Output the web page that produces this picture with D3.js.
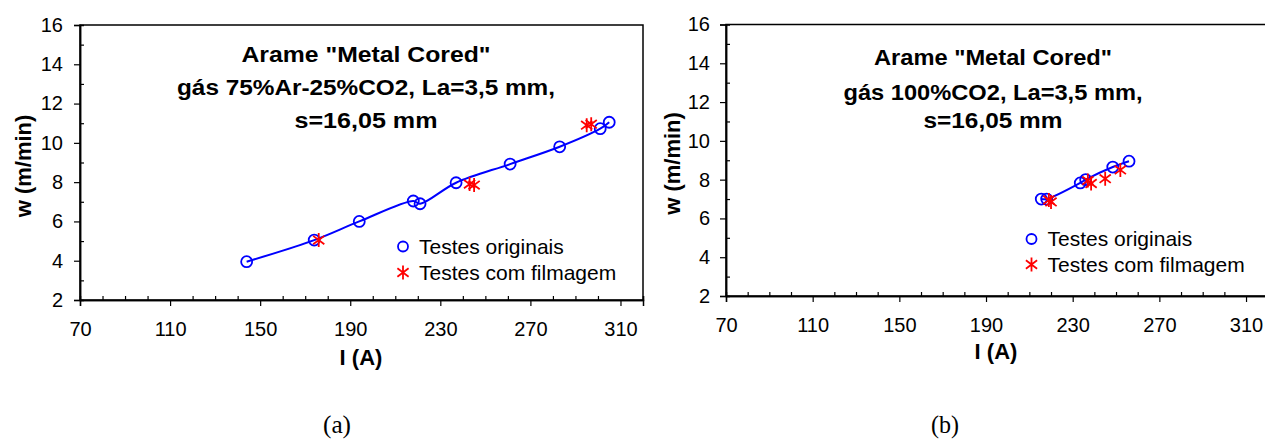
<!DOCTYPE html>
<html>
<head>
<meta charset="utf-8">
<script src="https://cdn.jsdelivr.net/npm/d3@7"></script>
<style>
  body { margin: 0; background: #fff; }
  svg text { font-family: "Liberation Sans", Arial, sans-serif; }
</style>
</head>
<body>
<svg width="1265" height="441"></svg>
<script>
// axis ticks
let xTicks = [70, 110, 150, 190, 230, 270, 310];
let yTicks = [2, 4, 6, 8, 10, 12, 14, 16];
let xMinor = [80, 90, 100, 120, 130, 140, 160, 170, 180, 200, 210, 220, 240, 250, 260, 280, 290, 300, 320];
let yMinor = [3, 5, 7, 9, 11, 13, 15];

// (a) 75%Ar-25%CO2
let aOrigI = [144, 174, 194, 218, 221, 237, 261, 283, 301, 305];
let aOrigW = [3.95, 5.05, 6.0, 7.04, 6.9, 7.97, 8.92, 9.8, 10.72, 11.05];
let aFilmI = [176, 243, 245, 295, 297];
let aFilmW = [5.05, 7.9, 7.85, 10.9, 10.95];

// (b) 100%CO2
let bOrigI = [215.5, 218, 233.5, 236, 248.5, 256];
let bOrigW = [7.0, 7.0, 7.83, 8.0, 8.65, 8.95];
let bFilmI = [219, 220, 237, 238.5, 245, 252];
let bFilmW = [6.95, 6.85, 7.95, 7.8, 8.05, 8.5];

let titleA = ['Arame "Metal Cored"', 'gás 75%Ar-25%CO2, La=3,5 mm,', 's=16,05 mm'];
let titleB = ['Arame "Metal Cored"', 'gás 100%CO2, La=3,5 mm,', 's=16,05 mm'];
let legendLabels = ['Testes originais', 'Testes com filmagem'];

let svg = d3.select('svg');

function zip(xs, ys) {
    return xs.map((x, i) => [x, ys[i]]);
}

// asterisk marker like the excel "*"
function starPath(r) {
    let d = r * 0.8;
    return `M0,${-r}L0,${r}M${-d},${-d * 0.75}L${d},${d * 0.75}M${-d},${d * 0.75}L${d},${-d * 0.75}`;
}

function drawChart(c) {
    let x = d3.scaleLinear().domain([70, 320]).range([c.left, c.right]);
    let y = d3.scaleLinear().domain([2, 16]).range([c.bottom, c.top]);
    let g = svg.append('g');

    // plot frame
    g.append('rect')
        .attr('x', c.left)
        .attr('y', c.top)
        .attr('width', c.right - c.left)
        .attr('height', c.bottom - c.top)
        .attr('fill', 'none')
        .attr('stroke', '#000')
        .attr('stroke-width', 1.5);

    // major ticks outside, minor ticks inside
    g.append('g')
        .attr('transform', `translate(0,${c.bottom})`)
        .call(d3.axisBottom(x).tickValues(xTicks).tickSize(6).tickPadding(16).tickFormat(d3.format('d')));
    g.append('g')
        .attr('transform', `translate(0,${c.bottom})`)
        .call(d3.axisBottom(x).tickValues(xMinor).tickSize(-4).tickFormat(''));
    g.append('g')
        .attr('transform', `translate(${c.left},0)`)
        .call(d3.axisLeft(y).tickValues(yTicks).tickSize(6).tickPadding(c.yPad).tickFormat(d3.format('d')));
    g.append('g')
        .attr('transform', `translate(${c.left},0)`)
        .call(d3.axisLeft(y).tickValues(yMinor).tickSize(-4).tickFormat(''));

    g.selectAll('.domain').attr('stroke-width', 1.5);
    g.selectAll('.tick line').attr('stroke-width', 1.2);
    g.selectAll('.tick text')
        .style('font-size', '20px')
        .style('font-family', '"Liberation Sans", Arial, sans-serif')
        .attr('fill', '#000');

    // axis titles
    g.append('text')
        .attr('x', c.xLabelX)
        .attr('y', c.xLabelY)
        .attr('text-anchor', 'middle')
        .style('font-size', '22px')
        .style('font-weight', 'bold')
        .text('I (A)');
    g.append('text')
        .attr('transform', `translate(${c.yLabelX},${c.yLabelY}) rotate(-90)`)
        .attr('text-anchor', 'middle')
        .style('font-size', '22px')
        .style('font-weight', 'bold')
        .text('w (m/min)');

    // title block
    g.selectAll('text.title')
        .data(c.title)
        .enter()
        .append('text')
        .classed('title', true)
        .attr('x', c.titleX)
        .attr('y', (d, i) => c.titleY[i])
        .attr('text-anchor', 'middle')
        .attr('textLength', (d, i) => c.titleLen[i])
        .attr('lengthAdjust', 'spacingAndGlyphs')
        .style('font-size', '22px')
        .style('font-weight', 'bold')
        .text(d => d);

    // fitted line through the original tests
    let pts = zip(c.origI, c.origW).sort((a, b) => a[0] - b[0]);
    let line = d3.line()
        .x(d => x(d[0]))
        .y(d => y(d[1]))
        .curve(d3.curveCatmullRom.alpha(0.5));
    g.append('path')
        .attr('d', line(pts))
        .attr('fill', 'none')
        .attr('stroke', '#0000ff')
        .attr('stroke-width', 2);

    g.selectAll('circle.orig')
        .data(zip(c.origI, c.origW))
        .enter()
        .append('circle')
        .classed('orig', true)
        .attr('cx', d => x(d[0]))
        .attr('cy', d => y(d[1]))
        .attr('r', 5.5)
        .attr('fill', 'none')
        .attr('stroke', '#0000ff')
        .attr('stroke-width', 1.8);

    g.selectAll('path.film')
        .data(zip(c.filmI, c.filmW))
        .enter()
        .append('path')
        .classed('film', true)
        .attr('transform', d => `translate(${x(d[0])},${y(d[1])})`)
        .attr('d', starPath(7))
        .attr('fill', 'none')
        .attr('stroke', '#ff0000')
        .attr('stroke-width', 1.8);

    // legend
    let leg = g.append('g').attr('transform', `translate(${c.legX},${c.legY})`);
    leg.append('circle')
        .attr('cx', 0).attr('cy', 0).attr('r', 5)
        .attr('fill', 'none').attr('stroke', '#0000ff').attr('stroke-width', 1.8);
    leg.append('path')
        .attr('transform', `translate(0,${c.legStep})`)
        .attr('d', starPath(7))
        .attr('fill', 'none').attr('stroke', '#ff0000').attr('stroke-width', 1.8);
    leg.selectAll('text')
        .data(legendLabels)
        .enter()
        .append('text')
        .attr('x', 16)
        .attr('y', (d, i) => i * c.legStep + 7)
        .style('font-size', '21px')
        .text(d => d);
}

drawChart({
    left: 80, right: 643, top: 25, bottom: 300, yPad: 11,
    origI: aOrigI, origW: aOrigW, filmI: aFilmI, filmW: aFilmW,
    title: titleA, titleX: 366, titleY: [62, 95, 128], titleLen: [249, 378, 143],
    xLabelX: 361, xLabelY: 365, yLabelX: 31, yLabelY: 166,
    legX: 403, legY: 246.5, legStep: 26
});

drawChart({
    left: 726, right: 1267.7, top: 24.5, bottom: 296, yPad: 10,
    origI: bOrigI, origW: bOrigW, filmI: bFilmI, filmW: bFilmW,
    title: titleB, titleX: 993, titleY: [65, 99.5, 128], titleLen: [238, 299, 139],
    xLabelX: 996, xLabelY: 359, yLabelX: 680, yLabelY: 163.5,
    legX: 1031.5, legY: 239, legStep: 25.5
});

// sub-figure captions
svg.selectAll('text.caption')
    .data([['(a)', 337], ['(b)', 945]])
    .enter()
    .append('text')
    .classed('caption', true)
    .attr('x', d => d[1])
    .attr('y', 433)
    .attr('text-anchor', 'middle')
    .attr('textLength', 28)
    .attr('lengthAdjust', 'spacingAndGlyphs')
    .style('font-family', '"Liberation Serif", "Times New Roman", serif')
    .style('font-size', '26px')
    .text(d => d[0]);
</script>
</body>
</html>
